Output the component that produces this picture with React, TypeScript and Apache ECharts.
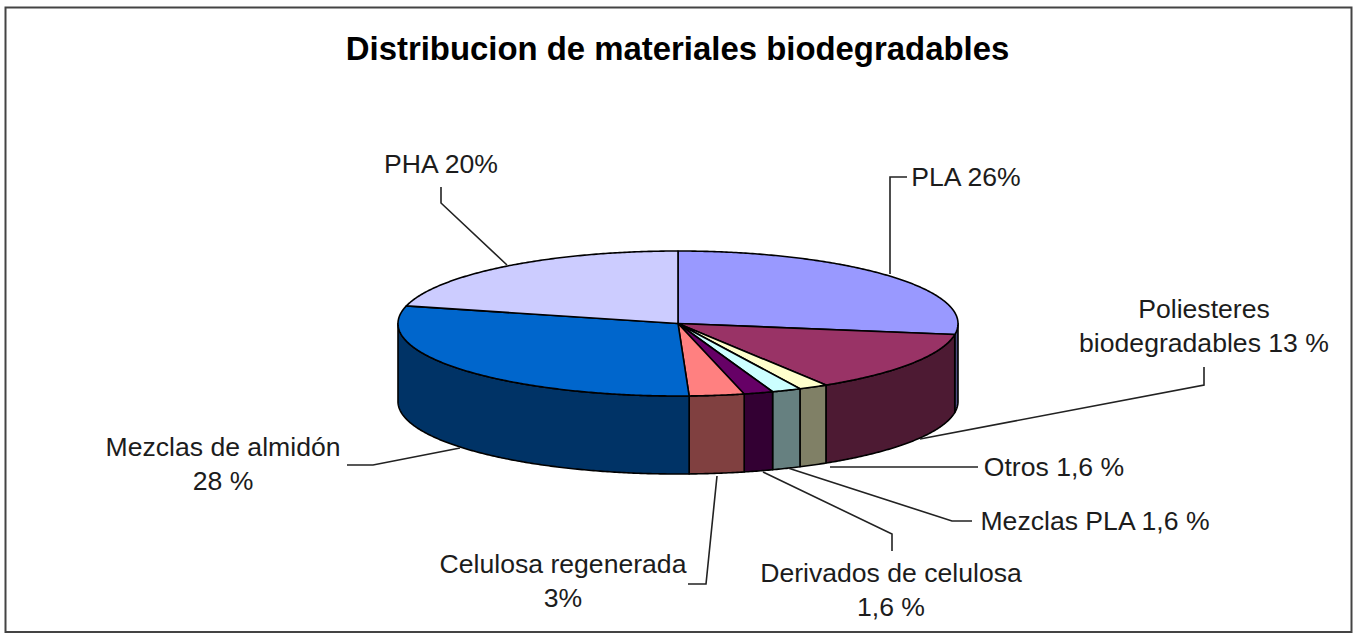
import React, { useEffect, useRef } from "react";
import * as echarts from "echarts";

const titleText = "Distribucion de materiales biodegradables";
const categories = ["PLA", "Poliesteres biodegradables", "Otros", "Mezclas PLA", "Derivados de celulosa", "Celulosa regenerada", "Mezclas de almidón", "PHA"];
const values = [26, 13, 1.6, 1.6, 1.6, 3, 28, 20];
const labelTexts = ["PLA 26%", "Poliesteres\nbiodegradables 13 %", "Otros 1,6 %", "Mezclas PLA 1,6 %", "Derivados de celulosa\n1,6 %", "Celulosa regenerada\n3%", "Mezclas de almidón\n28 %", "PHA 20%"];

const topColors = ["#9999FF", "#993366", "#FFFFCC", "#CCFFFF", "#660066", "#FF8080", "#0066CC", "#CCCCFF"];
const sideColors = ["#4D4D80", "#4D1A33", "#808066", "#668080", "#330033", "#804040", "#003366", "#666680"];

// Layout of the pseudo-3D pie and its callouts (pixels)
const CX = 678, CY = 323.5, RX = 280, RY = 72.5, DEPTH = 78;
const labelCenters = [[966, 177], [1204, 326], [1054, 467], [1095, 521], [891, 590], [563, 581], [223, 464], [441, 164]];
const leaders = [
  [[890, 274], [890, 177], [907, 177]],
  [[1204, 367], [1204, 385], [920, 439]],
  [[830, 467], [978, 467]],
  [[788, 468], [952, 521], [972, 521]],
  [[763, 472], [892, 534], [892, 551]],
  [[717, 476], [706, 584], [688, 584]],
  [[347, 465], [373, 465], [460, 448]],
  [[441, 187], [441, 203], [507, 265]],
];
const FONT = "26.6px 'Liberation Sans', Arial, sans-serif";
const total = values.reduce((a, b) => a + b, 0);

const rad = (deg: number) => (deg * Math.PI) / 180;
const rimPoint = (deg: number, dy = 0) => [CX + RX * Math.sin(rad(deg)), CY - RY * Math.cos(rad(deg)) + dy];
const arcPoints = (from: number, to: number, dy = 0) => {
  const out: number[][] = [];
  const steps = Math.max(2, Math.ceil(to - from) * 2);
  for (let k = 0; k <= steps; k++) out.push(rimPoint(from + ((to - from) * k) / steps, dy));
  return out;
};

function renderSlice(params: any, api: any) {
  const i = params.dataIndex;
  const v = api.value(0);
  let before = 0;
  for (let k = 0; k < i; k++) before += values[k];
  const start = (before / total) * 360;
  const end = start + (v / total) * 360;
  const children: any[] = [];
  const sideFrom = Math.max(start, 90);
  const sideTo = Math.min(end, 270);
  if (sideTo > sideFrom) {
    const front = arcPoints(sideFrom, sideTo);
    const back = arcPoints(sideFrom, sideTo, DEPTH).reverse();
    children.push({
      type: "polygon",
      shape: { points: [...front, ...back] },
      style: { fill: sideColors[i], stroke: "#000", lineWidth: 1.6, lineJoin: "round" },
    });
  }
  children.push({
    type: "polygon",
    shape: { points: [[CX, CY], ...arcPoints(start, end)] },
    style: { fill: topColors[i], stroke: "#000", lineWidth: 1.6, lineJoin: "round" },
  });
  children.push({
    type: "polyline",
    shape: { points: leaders[i] },
    style: { fill: "none", stroke: "#222", lineWidth: 1.6 },
  });
  children.push({
    type: "text",
    style: {
      x: labelCenters[i][0],
      y: labelCenters[i][1],
      text: labelTexts[i],
      font: FONT,
      fill: "#1c1c1c",
      textAlign: "center",
      textVerticalAlign: "middle",
      lineHeight: 34.5,
    },
  });
  return { type: "group", children };
}

export default function App() {
  const ref = useRef<HTMLDivElement>(null);
  useEffect(() => {
    const chart = echarts.init(ref.current!, null, { renderer: "svg" });
    chart.setOption({
      animation: false,
      backgroundColor: "#fff",
      title: {
        text: titleText,
        left: 672.5,
        top: 27,
        textAlign: "center",
        textStyle: { fontFamily: "'Liberation Sans', Arial, sans-serif", fontSize: 32.9, fontWeight: "bold", color: "#000" },
      },
      graphic: [
        {
          type: "rect",
          silent: true,
          shape: { x: 5.5, y: 7.5, width: 1346, height: 624.5 },
          style: { fill: "none", stroke: "#444", lineWidth: 2 },
        },
      ],
      series: [
        {
          type: "custom",
          coordinateSystem: "none",
          silent: true,
          renderItem: renderSlice,
          data: values.map((value, i) => ({ name: categories[i], value })),
        },
      ],
    });
    return () => chart.dispose();
  }, []);
  return <div ref={ref} style={{ position: "absolute", left: 0, top: 0, width: 1356, height: 633 }} />;
}
